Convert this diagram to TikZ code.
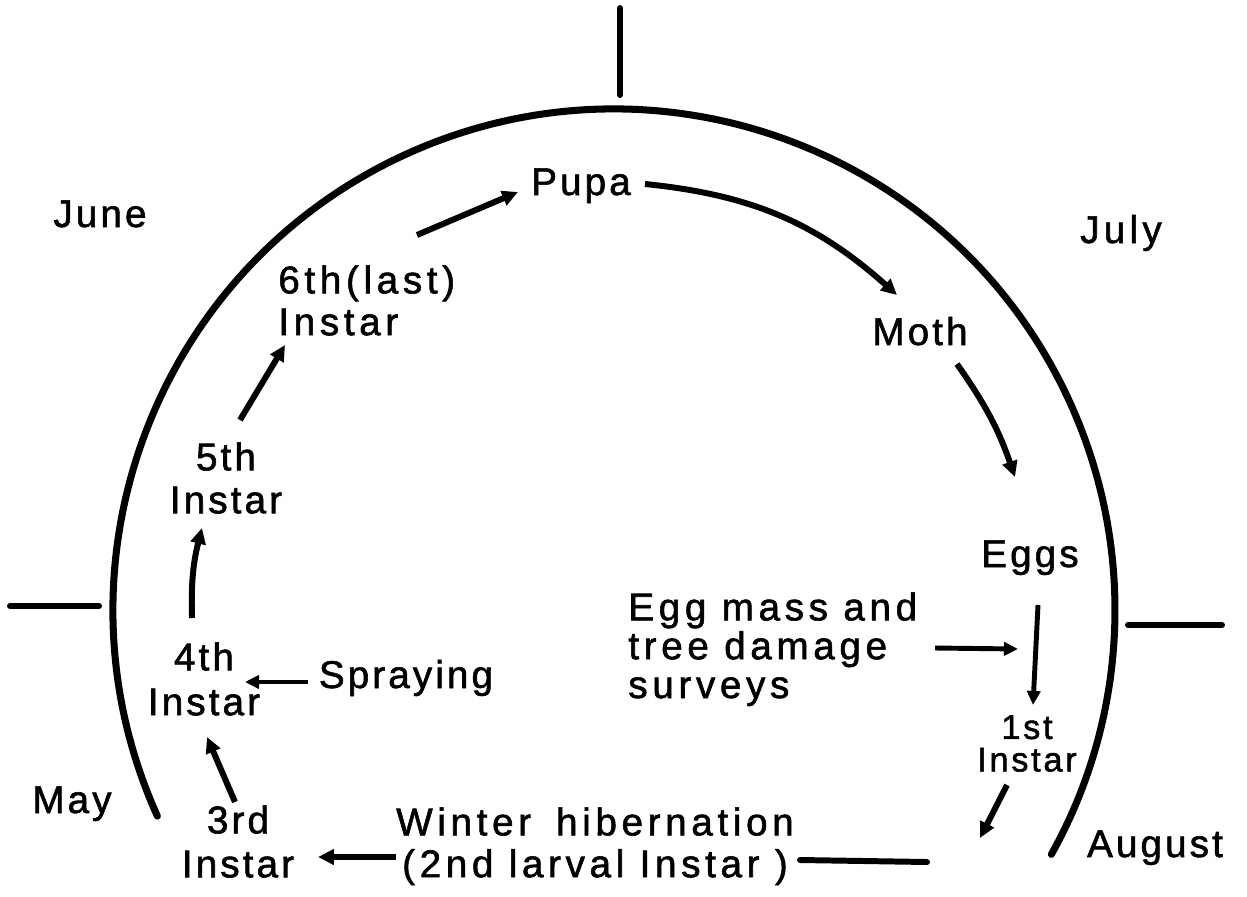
\documentclass[tikz,border=0pt]{standalone}
\usepackage{fontspec}
\setmainfont{Liberation Sans}[LetterSpace=8,FakeBold=1.5]
\usetikzlibrary{arrows.meta,calc}
\begin{document}
\begin{tikzpicture}[x=0.02cm,y=0.02cm,
  lbl/.style={inner sep=0pt,font=\fontsize{22}{24.5}\selectfont},
  wide/.style={font=\fontsize{22}{#1}\selectfont\addfontfeature{LetterSpace=12}},
  arr/.style={line width=3.4pt,-{Triangle[length=9pt,width=8.5pt]}},
  thinarr/.style={line width=2.8pt,-{Triangle[length=8pt,width=7.5pt]}},
  rim/.style={line width=4pt,line cap=round},
  tickline/.style={line width=3.4pt,line cap=round}]
\useasboundingbox (0,0) rectangle (1247,-896);

% outer arc and month ticks
\draw[rim] (614,-610) ++(204.3:501) arc[start angle=204.3,end angle=-29.2,radius=501];
\draw[tickline] (620,-8) -- (620,-95);
\draw[tickline] (10,-606) -- (99,-606);
\draw[tickline] (1128,-625) -- (1222,-625);

% months
\node[lbl,anchor=base] (june) at (100,-227) {June};
\node[lbl,anchor=base,font=\fontsize{22}{24.5}\selectfont\addfontfeature{LetterSpace=11}] (july) at (1121,-243) {July};
\node[lbl,anchor=base] (may) at (72,-813) {May};
\node[lbl,anchor=base] (august) at (1155,-857) {August};

% stages
\node[lbl,anchor=base] (pupa) at (581,-195) {Pupa};
\node[lbl,anchor=base] (moth) at (920,-345) {Moth};
\node[lbl,anchor=base] (eggs) at (1030,-567) {Eggs};
\node[lbl,anchor=base] (spray) at (406,-688) {Spraying};
\node[lbl,anchor=north west,align=left,wide=23.8] (six) at (278,-265) {6th(last)\\Instar};
\node[lbl,anchor=north,align=center,font=\fontsize{22}{24.4}\selectfont] (five) at (226,-442) {5th\\Instar};
\node[lbl,anchor=north,align=center,font=\fontsize{22}{25.5}\selectfont] (four) at (204,-642) {4th\\Instar};
\node[lbl,anchor=north,align=center,font=\fontsize{22}{25}\selectfont] (three) at (238,-805) {3rd\\Instar};
\node[lbl,anchor=north,align=center,wide=23.8] (winter) at (595,-807) {Winter\hspace{0.25em} hibernation\\(2nd larval Instar )};
\node[lbl,anchor=north west,align=left,wide=22.1] (eggmass) at (628,-592) {Egg mass and\\tree damage\\surveys};
\node[lbl,anchor=north,align=center,font=\fontsize{19.5}{18.5}\selectfont] (first) at (1027,-715) {1st\\Instar};

\coordinate (survtip) at (1018,-649);

% connectors
\draw[arr] ($(six.north west)+(139,30)$) -- ($(pupa.base)+(-63,3)$);
\draw[arr] ($(pupa.base)+(64,11)$) to[bend left=18] ($(moth.base)+(-23,50)$);
\draw[arr] ($(moth.base)+(37,-19)$) to[bend left=8] ($(eggs.base)+(-15,90)$);
\draw[thinarr] ($(eggs.base)+(8,-38)$) -- ($(first.north)+(6,10)$);
\draw[thinarr] ($(eggmass.north west)+(307,-56)$) -- (survtip);
\draw[arr] ($(first.north)+(-20,-70)$) -- ($(winter.north)+(385,-31)$);
\draw[tickline] ($(winter.north)+(205,-53)$) -- ($(winter.north)+(332,-55)$);
\draw[arr] ($(winter.north)+(-199,-50)$) -- ($(three.north)+(80,-52)$);
\draw[arr] ($(three.north)+(-3,3)$) -- ($(four.north)+(3,-95)$);
\draw[thinarr] ($(spray.base)+(-98,6)$) -- ($(four.north)+(41,-40)$);
\draw[arr] ($(four.north)+(-12,24)$) to[bend left=8] ($(five.north)+(-24,-86)$);
\draw[arr] ($(five.north)+(14,22)$) -- ($(six.north west)+(7,-80)$);
\end{tikzpicture}
\end{document}
